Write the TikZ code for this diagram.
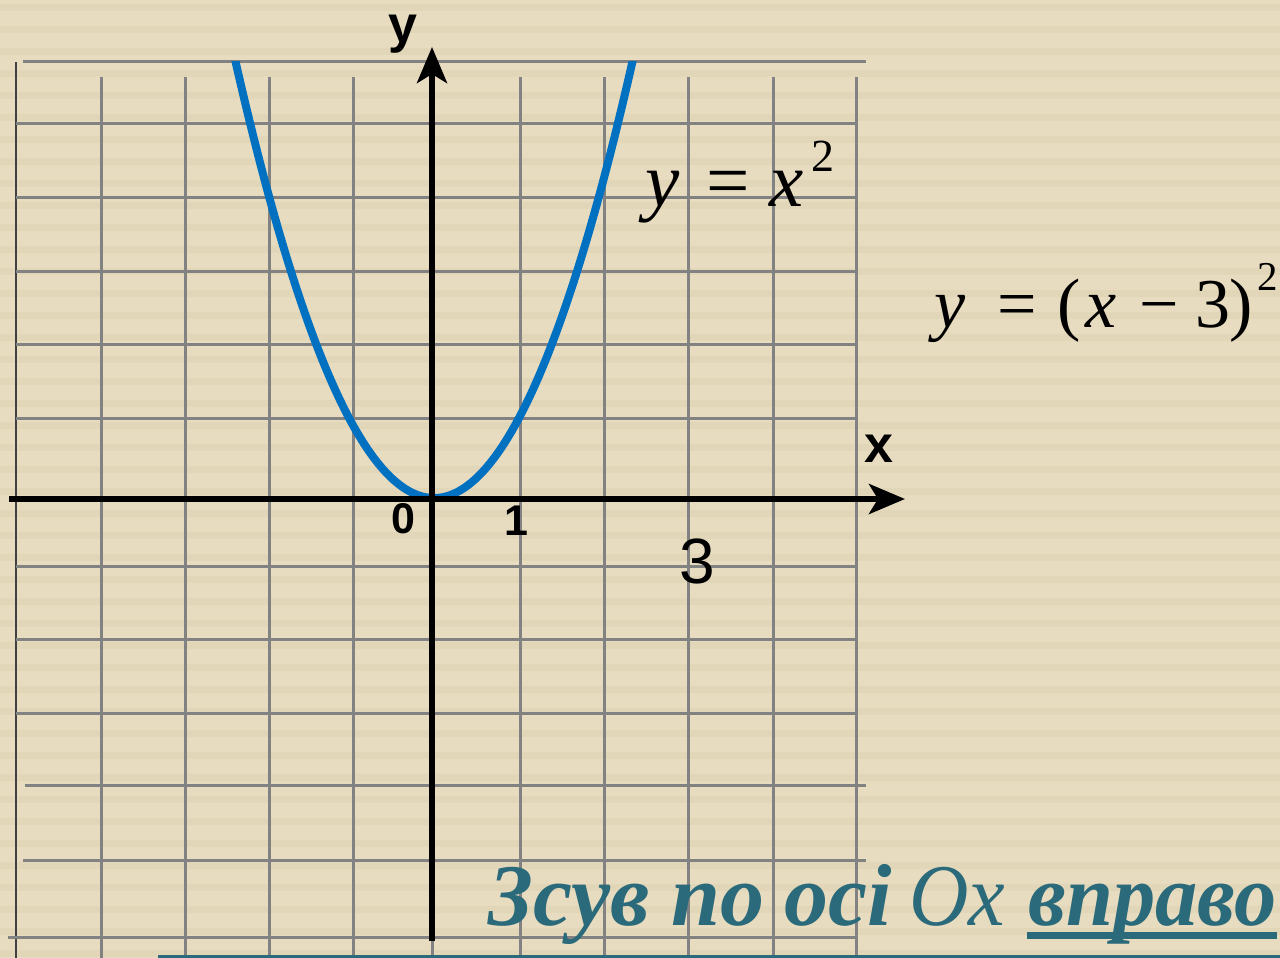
\documentclass[tikz,border=0pt]{standalone}
\usepackage{fontspec}
\usepackage{graphicx}
\setmainfont{Liberation Serif}
\newfontfamily\lsans{Liberation Sans}
\usetikzlibrary{arrows.meta}
\definecolor{bgc}{HTML}{E8DCC0}
\definecolor{stripec}{HTML}{E2D6B9}
\definecolor{gridc}{HTML}{828282}
\definecolor{curvec}{HTML}{0070C0}
\definecolor{tealc}{HTML}{2A6A7A}
\newcommand{\fitw}[2]{\resizebox{#1}{\height}{#2}}
\tikzset{
  gridline/.style={draw=gridc, line width=1.5pt},
  axisline/.style={draw=black, line width=3pt, -{Stealth[length=18pt,width=15pt,inset=4.5pt]}},
  axlabel/.style={inner sep=0pt, anchor=base, font=\lsans\bfseries\fontsize{26pt}{26pt}\selectfont},
  numlabel/.style={inner sep=0pt, anchor=base, font=\lsans\bfseries\fontsize{21.5pt}{21.5pt}\selectfont},
  formula/.style={inner sep=0pt, anchor=base west},
  caption/.style={inner sep=0pt, anchor=base west, text=tealc, font=\fontsize{44pt}{44pt}\selectfont\bfseries\itshape},
}
\begin{document}
\begin{tikzpicture}[x=0.5pt,y=-0.5pt]
\useasboundingbox (0,0) rectangle (1280,958);
% background
\fill[bgc] (0,0) rectangle (1280,958);
\foreach \i in {0,...,43} {
  \fill[stripec] (0,{\i*22+4}) rectangle (1280,{\i*22+11});
}
% grid
\foreach \xx in {101,185,269,353,432,520,604,688,773,856} {
  \draw[gridline] (\xx,77) -- (\xx,958);
}
\draw[draw=black!75, line width=1pt] (16,62) -- (16,958);
\draw[gridline] (23,61) -- (866,61);
\foreach \yy in {123,197,271,344,418,566,639,713} {
  \draw[gridline] (16,\yy) -- (857,\yy);
}
\draw[gridline] (25,785) -- (866,785);
\draw[gridline] (23,860) -- (866,860);
\draw[gridline] (8,937) -- (856,937);
% parabola
\begin{scope}
\clip (0,61) rectangle (1280,958);
\draw[curvec, line width=4pt] plot[domain=-2.5:2.5, samples=121, smooth] ({434+82*\x},{498-74.5*\x*\x});
\end{scope}
% axes
\coordinate (xs) at (9,499);
\coordinate (xe) at (905,499);
\coordinate (ys) at (432,941);
\coordinate (ye) at (432,47);
\draw[axisline] (xs) -- (xe);
\draw[axisline] (ys) -- (ye);
% axis labels
\node[axlabel] (ylab) at (403,42) {y};
\node[axlabel] (xlab) at (879,462) {x};
\node[numlabel] (zero) at (403,533) {0};
\node[numlabel] (one) at (516,535) {1};
\node[inner sep=0pt, anchor=base, font=\lsans\fontsize{32pt}{32pt}\selectfont] (three) at (697,583) {3};
% formulas
\node[formula, font=\fontsize{38.5pt}{38.5pt}\selectfont] (f1) at (645,206)
  {\makebox[30.5pt][l]{\itshape y}\makebox[31.5pt][l]{=}\makebox[21pt][l]{\itshape x}\raisebox{17.5pt}{\fontsize{23pt}{23pt}\selectfont 2}};
\node[formula, font=\fontsize{35pt}{35pt}\selectfont] (f2) at (934,327)
  {\makebox[31.5pt][l]{\itshape y}\makebox[30pt][l]{=}\makebox[14pt][l]{(}\makebox[27pt][l]{\itshape x}\makebox[28pt][l]{−}\makebox[17pt][l]{3}\makebox[14pt][l]{)}\raisebox{18.5pt}{\fontsize{20.5pt}{20.5pt}\selectfont 2}};
% caption
\node[caption] (w1) at (488,925) {Зсув};
\node[caption] (w2) at (671,925) {по};
\node[caption] (w3) at (784,925) {осі};
\node[caption, font=\fontsize{44pt}{44pt}\selectfont\itshape] (w4) at (909,925) {\fitw{48pt}{Ох}};
\node[caption] (w5) at (1028,925) {\fitw{124pt}{вправо}};
\fill[tealc] (1027,931.5) rectangle (1277,938.5);
\fill[tealc] (158,955) rectangle (1280,958);
\end{tikzpicture}
\end{document}
